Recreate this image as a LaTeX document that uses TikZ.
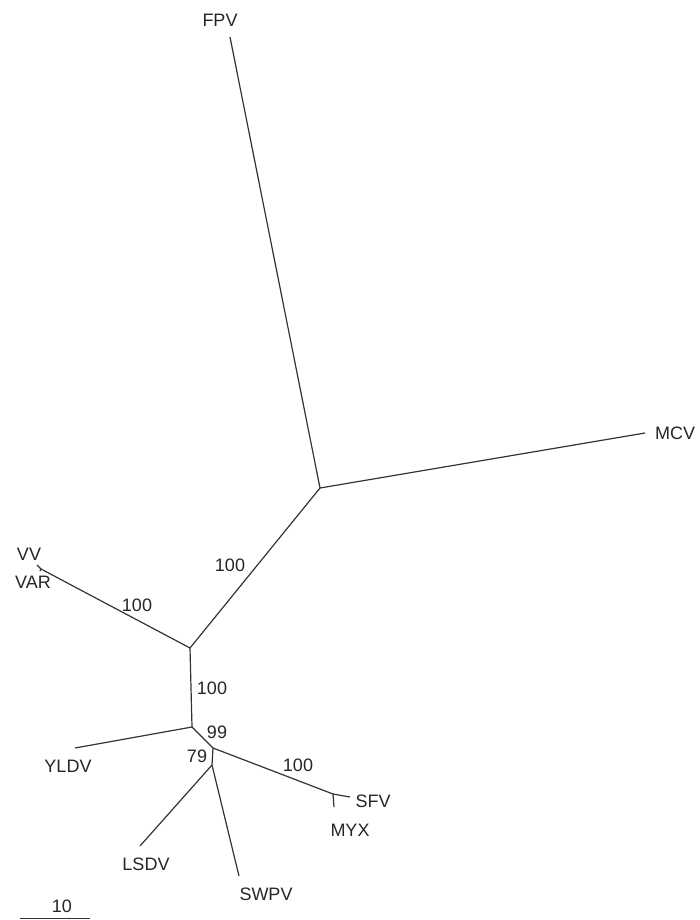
\documentclass[tikz,border=0pt]{standalone}
\usepackage{fontspec}
\setmainfont{Liberation Sans}
\begin{document}
\begin{tikzpicture}[x=1pt,y=-1pt,
  branch/.style={draw=black!80,line width=1.2pt},
  taxon/.style={font=\fontsize{18}{18}\selectfont,text=black!85,inner sep=0pt},
  boot/.style={font=\fontsize{18}{18}\selectfont,text=black!85,inner sep=0pt}]
\useasboundingbox (0,0) rectangle (700,920);
% internal nodes
\coordinate (c1) at (320,488);
\coordinate (c2) at (190,648);
\coordinate (c3) at (192,727);
\coordinate (c4) at (213,748);
\coordinate (c5) at (212,765);
\coordinate (c6) at (333,794);
\coordinate (c7) at (41,569);
% tips
\coordinate (fpv) at (230,37);
\coordinate (mcv) at (645,433);
\coordinate (vv) at (37,565);
\coordinate (var) at (40,571);
\coordinate (yldv) at (75,748);
\coordinate (lsdv) at (140,846);
\coordinate (swpv) at (239,876);
\coordinate (sfv) at (350,797);
\coordinate (myx) at (334,807);
% branches
\draw[branch] (c1) -- (fpv);
\draw[branch] (c1) -- (mcv);
\draw[branch] (c1) -- (c2);
\draw[branch] (c2) -- (c7);
\draw[branch] (c7) -- (vv);
\draw[branch] (c7) -- (var);
\draw[branch] (c2) -- (c3);
\draw[branch] (c3) -- (yldv);
\draw[branch] (c3) -- (c4);
\draw[branch] (c4) -- (c5);
\draw[branch] (c5) -- (lsdv);
\draw[branch] (c5) -- (swpv);
\draw[branch] (c4) -- (c6);
\draw[branch] (c6) -- (sfv);
\draw[branch] (c6) -- (myx);
% taxon labels
\node[taxon] (lfpv) at (220,20) {FPV};
\node[taxon] (lmcv) at (675,433) {MCV};
\node[taxon] (lvv) at (29,554) {VV};
\node[taxon] (lvar) at (33,582) {VAR};
\node[taxon] (lyldv) at (68,766) {YLDV};
\node[taxon] (llsdv) at (146,864) {LSDV};
\node[taxon] (lswpv) at (266,894) {SWPV};
\node[taxon] (lsfv) at (373,801) {SFV};
\node[taxon] (lmyx) at (350,830) {MYX};
% bootstrap values
\node[boot] (b1) at (230,565) {100};
\node[boot] (b2) at (137,605) {100};
\node[boot] (b3) at (212,688) {100};
\node[boot] (b4) at (217,732) {99};
\node[boot] (b5) at (197,756) {79};
\node[boot] (b6) at (298,765) {100};
% scale bar
\coordinate (s0) at (20,918);
\coordinate (s1) at (90,918);
\draw[branch,line width=0.9pt] (s0) -- (s1);
\node[boot] (sl) at (62,906) {10};
\end{tikzpicture}
\end{document}
